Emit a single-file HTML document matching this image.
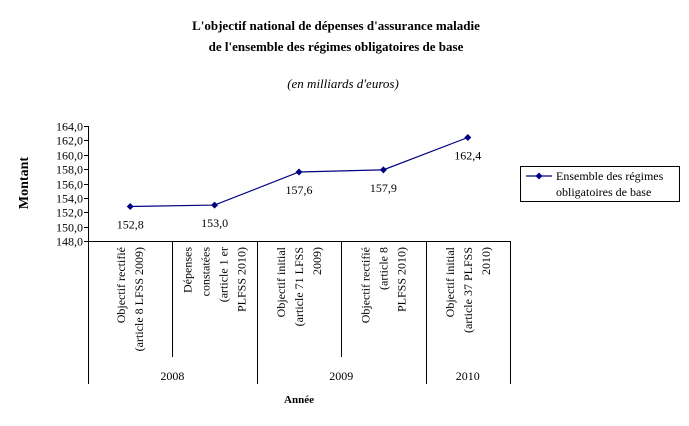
<!DOCTYPE html>
<html><head><meta charset="utf-8"><style>
html,body{margin:0;padding:0;background:#fff;}
svg{display:block;font-family:"Liberation Serif",serif;}
</style></head><body>
<svg width="689" height="426" xmlns="http://www.w3.org/2000/svg">
<text x="336" y="30" text-anchor="middle" font-size="13" font-weight="bold">L'objectif national de dépenses d'assurance maladie</text>
<text x="336" y="51" text-anchor="middle" font-size="13" font-weight="bold">de l'ensemble des régimes obligatoires de base</text>
<text x="343" y="88" text-anchor="middle" font-size="13" font-style="italic">(en milliards d'euros)</text>
<text transform="translate(28,183) rotate(-90)" text-anchor="middle" font-size="14" font-weight="bold">Montant</text>
<text x="299" y="403" text-anchor="middle" font-size="11" font-weight="bold">Année</text>
<g id="axes"></g>
<g id="marks"></g>
<g>
<rect x="520.5" y="166.5" width="159" height="35" fill="none" stroke="#000"/>
<line x1="526" y1="176" x2="552" y2="176" stroke="#000080" stroke-width="1.2"/>
<path d="M539 172.5L542.5 176L539 179.5L535.5 176Z" fill="#000080"/>
<text x="556" y="180" font-size="12">Ensemble des régimes</text>
<text x="556" y="196" font-size="12">obligatoires de base</text>
</g>
</svg>
<script>
const categories=[["Objectif rectifié","(article 8 LFSS 2009)"],["Dépenses","constatées","(article 1 er","PLFSS 2010)"],["Objectif initial","(article 71 LFSS","2009)"],["Objectif rectifié","(article 8","PLFSS 2010)"],["Objectif initial","(article 37 PLFSS","2010)"]];
const values=[152.8,153.0,157.6,157.9,162.4];
const valueLabels=["152,8","153,0","157,6","157,9","162,4"];
const years=["2008","2009","2010"];
const yearSpans=[2,2,1];
const yTicks=[148,150,152,154,156,158,160,162,164];
const NS="http://www.w3.org/2000/svg";
const x0=88,x1=510,yTop=126,yBot=241,yMin=148,yMax=164;
const bw=(x1-x0)/categories.length;
const xs=i=>x0+bw*(i+0.5);
const ys=v=>yBot-(v-yMin)/(yMax-yMin)*(yBot-yTop);
function mk(tag,attrs,parent){const e=document.createElementNS(NS,tag);for(const k in attrs)e.setAttribute(k,attrs[k]);parent.appendChild(e);return e;}
const ax=document.getElementById('axes'),mg=document.getElementById('marks');
let a=mk('line',{x1:x0+.5,y1:yTop,x2:x0+.5,y2:yBot,stroke:'#000'},ax);


a=mk('line',{x1:x0,y1:yBot+.5,x2:x1,y2:yBot+.5,stroke:'#000'},ax);


yTicks.forEach(t=>{const y=Math.round(ys(t))+.5;
mk('line',{x1:x0-4,y1:y,x2:x0,y2:y,stroke:'#000'},ax);
const tx=mk('text',{x:x0-5,y:y+4,'text-anchor':'end','font-size':'12'},ax);tx.textContent=t.toFixed(1).replace('.',',');

});
categories.forEach((c,i)=>{
if(i>0){mk('line',{x1:Math.round(x0+bw*i)+.5,y1:yBot,x2:Math.round(x0+bw*i)+.5,y2:357,stroke:'#000'},ax);}
const cx=xs(i);const n=c.length;
c.forEach((ln,j)=>{const lx=cx+(j-(n-1)/2)*18+4;
const t=mk('text',{transform:`translate(${lx},247) rotate(-90)`,'text-anchor':'end','font-size':'12'},ax);t.textContent=ln;

});});
[0].concat(yearSpans).reduce((acc,s,idx)=>{const xx=Math.round(x0+bw*acc)+.5;mk('line',{x1:xx,y1:yBot,x2:xx,y2:384,stroke:'#000'},ax);
if(idx<yearSpans.length){const t=mk('text',{x:x0+bw*(acc+yearSpans[idx]/2),y:380,'text-anchor':'middle','font-size':'12'},ax);t.textContent=years[idx];

}
return acc+(idx<yearSpans.length?yearSpans[idx]:0);},0);
const pts=values.map((v,i)=>xs(i)+','+ys(v)).join(' ');
const pl=mk('polyline',{points:pts,fill:'none',stroke:'#000080','stroke-width':'1.2'},mg);


values.forEach((v,i)=>{const x=xs(i),y=ys(v);
const m=mk('path',{d:`M${x} ${y-3.5}L${x+3.5} ${y}L${x} ${y+3.5}L${x-3.5} ${y}Z`,fill:'#000080'},mg);


const t=mk('text',{x:x,y:y+22,'text-anchor':'middle','font-size':'12'},mg);t.textContent=valueLabels[i];

});
</script>
</body></html>
